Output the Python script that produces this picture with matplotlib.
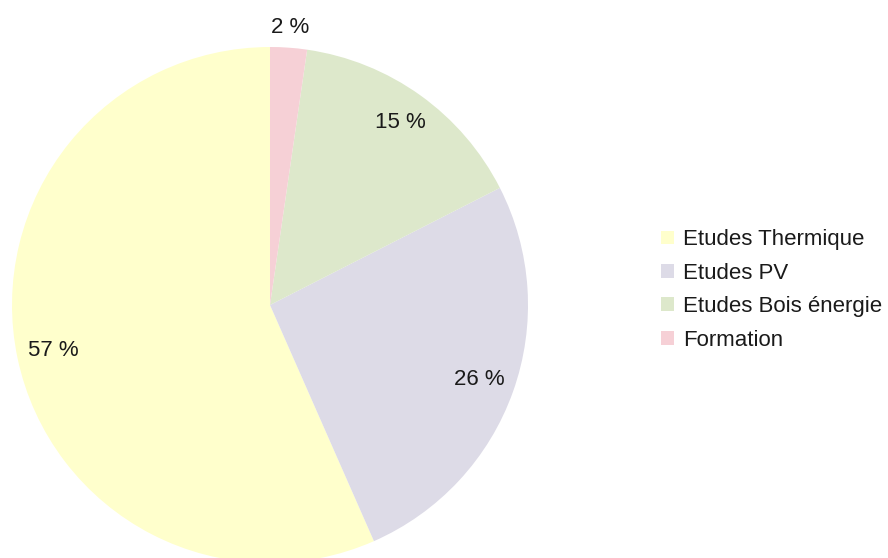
import matplotlib
matplotlib.use('Agg')
import matplotlib.pyplot as plt
from matplotlib.patches import Patch
import numpy as np

plt.rcParams['font.family'] = ['Liberation Sans', 'DejaVu Sans']

labels = ['Etudes Thermique', 'Etudes PV', 'Etudes Bois énergie', 'Formation']
shares = [56.6, 25.9, 15.2, 2.3]
colors = ['#ffffcc', '#dddbe7', '#dde8cb', '#f6d0d6']
label_radius = [0.86, 0.86, 0.87, 1.08]

fig = plt.figure(figsize=(8.88, 5.58), dpi=100)
# pie centred at (270, 305) px with radius 258 px
ax = fig.add_axes([12 / 888, (558 - 305 - 258) / 558, 516 / 888, 516 / 558])
wedges, _ = ax.pie(shares, colors=colors, startangle=90, counterclock=True,
                   radius=1.0, wedgeprops=dict(linewidth=0))
ax.set_xlim(-1, 1)
ax.set_ylim(-1, 1)
ax.set_aspect('equal')
ax.axis('off')

for w, val, r in zip(wedges, shares, label_radius):
    mid = np.deg2rad((w.theta1 + w.theta2) / 2)
    ax.text(r * np.cos(mid), r * np.sin(mid), '%d %%' % round(val),
            ha='center', va='center', fontsize=16, color='#1a1a1a',
            clip_on=False)

handles = [Patch(facecolor=c, edgecolor='none') for c in colors]
fig.legend(handles, labels, loc='center left', bbox_to_anchor=(661 / 888, 1 - 290 / 558),
           frameon=False, fontsize=16, handlelength=0.59, handleheight=0.59,
           handletextpad=0.4, labelspacing=0.56, borderpad=0, borderaxespad=0,
           labelcolor='#1a1a1a')

fig.savefig('out.png', dpi=100)
